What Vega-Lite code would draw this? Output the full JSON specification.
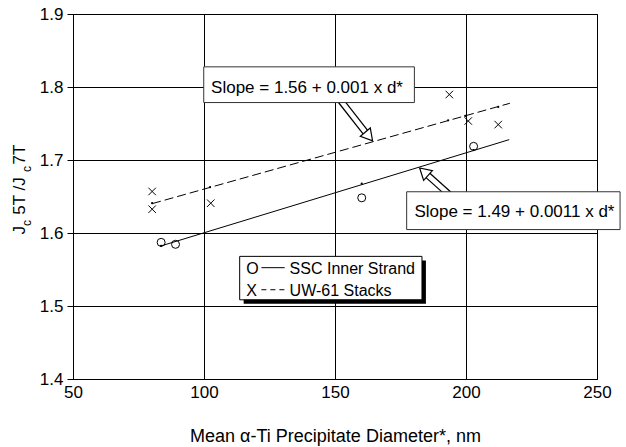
{
  "$schema": "https://vega.github.io/schema/vega-lite/v6.json",
  "width": 524,
  "height": 365,
  "autosize": "none",
  "padding": {"left": 73, "top": 14, "right": 29, "bottom": 68},
  "background": "white",
  "config": {
    "view": {"stroke": "#000"},
    "axis": {
      "domainColor": "#000", "gridColor": "#000", "gridOpacity": 1, "gridWidth": 1,
      "tickColor": "#000", "labelColor": "#000", "labelFont": "Liberation Sans",
      "labelFontSize": 17, "titleFont": "Liberation Sans", "titleFontSize": 18,
      "titleFontWeight": "normal", "titleColor": "#000"
    }
  },
  "datasets": {
    "ssc": [
      {"x": 83.64, "y": 1.5872}, {"x": 89.13, "y": 1.5845}, {"x": 160.2, "y": 1.6482}, {"x": 202.9, "y": 1.7187}
    ],
    "uw": [
      {"x": 80.21, "y": 1.6569}, {"x": 80.21, "y": 1.6326}, {"x": 102.57, "y": 1.6408},
      {"x": 193.63, "y": 1.7897}, {"x": 200.87, "y": 1.7534}, {"x": 212.3, "y": 1.7485}
    ],
    "fitSSC": [{"x": 83.6, "y": 1.5823}, {"x": 216.5, "y": 1.7279}],
    "fitUW": [{"x": 80.2, "y": 1.6402}, {"x": 216.75, "y": 1.7777}],
    "fitDots": [
      {"x": 80.2, "y": 1.6408}, {"x": 102.3, "y": 1.6628}, {"x": 193.2, "y": 1.7544},
      {"x": 199.7, "y": 1.7603}, {"x": 212.3, "y": 1.7727},
      {"x": 83.6, "y": 1.5823}, {"x": 160.2, "y": 1.6675}, {"x": 202.9, "y": 1.7136}
    ],
    "shafts": [
      {"x": 151.15, "y": 1.786, "x2": 161.96, "y2": 1.7365},
      {"x": 194.0, "y": 1.6514, "x2": 185.05, "y2": 1.6802}
    ],
    "head1": [{"x": 162.95, "y": 1.7323}],
    "head2": [{"x": 183.9, "y": 1.6839}],
    "boxes": [
      {"x": 99.9, "x2": 180.3, "y": 1.8276, "y2": 1.7787},
      {"x": 177.35, "x2": 258.8, "y": 1.6565, "y2": 1.6047}
    ],
    "boxText": [
      {"x": 102.7, "y": 1.7915, "t": "Slope = 1.56 + 0.001 x d*"},
      {"x": 180.3, "y": 1.6221, "t": "Slope = 1.49 + 0.0011 x d*"}
    ],
    "legShadow": [{"x": 115.14, "x2": 184.7, "y": 1.5625, "y2": 1.503}],
    "legBox": [{"x": 113.62, "x2": 183.2, "y": 1.568, "y2": 1.5085}],
    "legSolid": [{"x": 121.9, "x2": 130.8, "y": 1.5525}],
    "legDash": [{"x": 121.9, "x2": 130.8, "y": 1.5223}],
    "legText": [
      {"x": 116.17, "y": 1.5435, "t": "O"},
      {"x": 132.67, "y": 1.5435, "t": "SSC Inner Strand"},
      {"x": 116.17, "y": 1.5136, "t": "X"},
      {"x": 132.67, "y": 1.5136, "t": "UW-61 Stacks"}
    ],
    "yTitleMain": [
      {"x": 31.71, "y": 1.5978, "t": "J"},
      {"x": 31.71, "y": 1.625, "t": "5T /J"},
      {"x": 31.71, "y": 1.694, "t": "7T"}
    ],
    "yTitleSub": [
      {"x": 34.0, "y": 1.6095, "t": "c"},
      {"x": 34.0, "y": 1.6835, "t": "c"}
    ]
  },
  "layer": [
    {
      "data": {"name": "fitSSC"},
      "mark": {"type": "line", "color": "#000", "strokeWidth": 1},
      "encoding": {
        "x": {"field": "x", "type": "quantitative", "scale": {"domain": [50, 250], "nice": false, "zero": false},
          "axis": {"values": [50, 100, 150, 200, 250], "ticks": false, "labelPadding": 5, "labelFlush": false,
            "title": "Mean α-Ti Precipitate Diameter*, nm", "titleBaseline": "alphabetic", "titleY": 62}},
        "y": {"field": "y", "type": "quantitative", "scale": {"domain": [1.4, 1.9], "nice": false, "zero": false},
          "axis": {"values": [1.4, 1.5, 1.6, 1.7, 1.8, 1.9], "format": ".1f", "tickSize": 6, "labelPadding": 4, "title": null}}
      }
    },
    {
      "data": {"name": "fitUW"},
      "mark": {"type": "line", "color": "#000", "strokeWidth": 1, "strokeDash": [9, 4]},
      "encoding": {"x": {"field": "x", "type": "quantitative"}, "y": {"field": "y", "type": "quantitative"}}
    },
    {
      "data": {"name": "shafts"},
      "mark": {"type": "rule", "color": "#000", "strokeWidth": 7},
      "encoding": {"x": {"field": "x", "type": "quantitative"}, "y": {"field": "y", "type": "quantitative"},
        "x2": {"field": "x2"}, "y2": {"field": "y2"}}
    },
    {
      "data": {"name": "shafts"},
      "mark": {"type": "rule", "color": "#fff", "strokeWidth": 4.5},
      "encoding": {"x": {"field": "x", "type": "quantitative"}, "y": {"field": "y", "type": "quantitative"},
        "x2": {"field": "x2"}, "y2": {"field": "y2"}}
    },
    {
      "data": {"name": "head1"},
      "mark": {"type": "point", "shape": "triangle-up", "size": 169, "filled": true, "fill": "#fff", "stroke": "#000", "strokeWidth": 1.2, "angle": 140, "opacity": 1},
      "encoding": {"x": {"field": "x", "type": "quantitative"}, "y": {"field": "y", "type": "quantitative"}}
    },
    {
      "data": {"name": "head2"},
      "mark": {"type": "point", "shape": "triangle-up", "size": 169, "filled": true, "fill": "#fff", "stroke": "#000", "strokeWidth": 1.2, "angle": 312, "opacity": 1},
      "encoding": {"x": {"field": "x", "type": "quantitative"}, "y": {"field": "y", "type": "quantitative"}}
    },
    {
      "data": {"name": "boxes"},
      "mark": {"type": "rect", "fill": "#fff", "stroke": "#333", "strokeWidth": 1},
      "encoding": {"x": {"field": "x", "type": "quantitative"}, "x2": {"field": "x2"},
        "y": {"field": "y", "type": "quantitative"}, "y2": {"field": "y2"}}
    },
    {
      "data": {"name": "boxText"},
      "mark": {"type": "text", "align": "left", "baseline": "alphabetic", "font": "Liberation Sans", "fontSize": 17, "color": "#000"},
      "encoding": {"x": {"field": "x", "type": "quantitative"}, "y": {"field": "y", "type": "quantitative"}, "text": {"field": "t"}}
    },
    {
      "data": {"name": "legShadow"},
      "mark": {"type": "rect", "fill": "#000"},
      "encoding": {"x": {"field": "x", "type": "quantitative"}, "x2": {"field": "x2"},
        "y": {"field": "y", "type": "quantitative"}, "y2": {"field": "y2"}}
    },
    {
      "data": {"name": "legBox"},
      "mark": {"type": "rect", "fill": "#fff", "stroke": "#000", "strokeWidth": 1},
      "encoding": {"x": {"field": "x", "type": "quantitative"}, "x2": {"field": "x2"},
        "y": {"field": "y", "type": "quantitative"}, "y2": {"field": "y2"}}
    },
    {
      "data": {"name": "legSolid"},
      "mark": {"type": "rule", "color": "#000", "strokeWidth": 1},
      "encoding": {"x": {"field": "x", "type": "quantitative"}, "x2": {"field": "x2"}, "y": {"field": "y", "type": "quantitative"}}
    },
    {
      "data": {"name": "legDash"},
      "mark": {"type": "rule", "color": "#000", "strokeWidth": 1, "strokeDash": [5, 4]},
      "encoding": {"x": {"field": "x", "type": "quantitative"}, "x2": {"field": "x2"}, "y": {"field": "y", "type": "quantitative"}}
    },
    {
      "data": {"name": "legText"},
      "mark": {"type": "text", "align": "left", "baseline": "alphabetic", "font": "Liberation Sans", "fontSize": 16, "color": "#000"},
      "encoding": {"x": {"field": "x", "type": "quantitative"}, "y": {"field": "y", "type": "quantitative"}, "text": {"field": "t"}}
    },
    {
      "data": {"name": "ssc"},
      "mark": {"type": "point", "shape": "circle", "size": 64, "filled": false, "stroke": "#000", "strokeWidth": 1, "opacity": 1},
      "encoding": {"x": {"field": "x", "type": "quantitative"}, "y": {"field": "y", "type": "quantitative"}}
    },
    {
      "data": {"name": "uw"},
      "mark": {"type": "point", "shape": "M-1,-1L1,1M-1,1L1,-1", "size": 56, "filled": false, "stroke": "#000", "strokeWidth": 1, "opacity": 1},
      "encoding": {"x": {"field": "x", "type": "quantitative"}, "y": {"field": "y", "type": "quantitative"}}
    },
    {
      "data": {"name": "fitDots"},
      "mark": {"type": "point", "shape": "circle", "size": 5, "filled": true, "color": "#000", "opacity": 1},
      "encoding": {"x": {"field": "x", "type": "quantitative"}, "y": {"field": "y", "type": "quantitative"}}
    },
    {
      "data": {"name": "yTitleMain"},
      "mark": {"type": "text", "align": "left", "baseline": "alphabetic", "angle": 270, "font": "Liberation Sans", "fontSize": 17, "color": "#000"},
      "encoding": {"x": {"field": "x", "type": "quantitative"}, "y": {"field": "y", "type": "quantitative"}, "text": {"field": "t"}}
    },
    {
      "data": {"name": "yTitleSub"},
      "mark": {"type": "text", "align": "left", "baseline": "alphabetic", "angle": 270, "font": "Liberation Sans", "fontSize": 12, "color": "#000"},
      "encoding": {"x": {"field": "x", "type": "quantitative"}, "y": {"field": "y", "type": "quantitative"}, "text": {"field": "t"}}
    }
  ]
}
